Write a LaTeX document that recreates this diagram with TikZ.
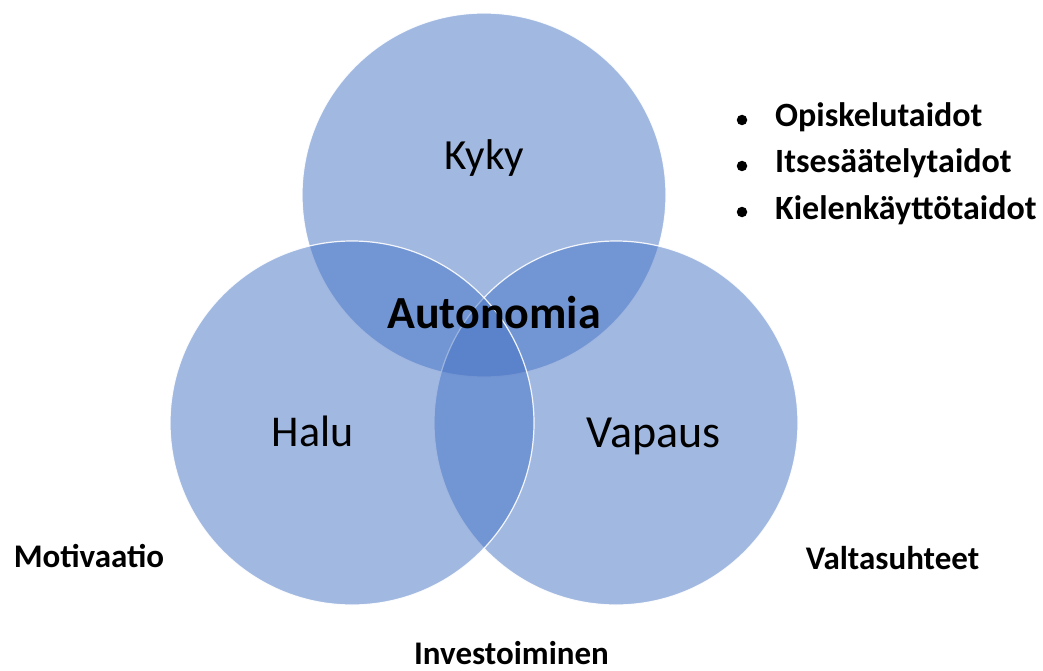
\documentclass[tikz,border=0pt]{standalone}
\usepackage{fontspec}
\setmainfont{Carlito}
\definecolor{vblue}{HTML}{4472C4}
\begin{document}
\begin{tikzpicture}[x=1pt,y=-1pt,
  venn/.style={circle, minimum size=364pt, inner sep=0pt, fill=vblue, fill opacity=0.5, draw=white, draw opacity=0.9, line width=1.2pt},
  bigtext/.style={inner sep=0pt, anchor=base, text=black, font=\fontsize{44}{50}\selectfont},
  boldtext/.style={inner sep=0pt, anchor=base, text=black, font=\bfseries\fontsize{33}{38}\selectfont},
  listtext/.style={boldtext, anchor=base west, font=\bfseries\fontsize{34}{38}\selectfont},
  dot/.style={circle, fill=black, minimum size=10.5pt, inner sep=0pt}]
\useasboundingbox (0,0) rectangle (1043,671);
\node[venn] (ctop) at (484,195) {};
\node[venn] (cright) at (616,423) {};
\node[venn] (cleft) at (352,423) {};
\node[bigtext, font=\fontsize{43}{50}\selectfont] (kyky) at (484.5,170) {Kyky};
\node[bigtext] (halu) at (312.5,446) {Halu};
\node[bigtext, font=\fontsize{46}{50}\selectfont] (vapaus) at (653.5,447) {Vapaus};
\node[bigtext, font=\bfseries\fontsize{46}{50}\selectfont] (auto) at (494,328) {Autonomia};
\node[boldtext] (moti) at (89,567) {Motivaatio};
\node[boldtext] (valta) at (892.5,569) {Valtasuhteet};
\node[boldtext] (inv) at (511.5,664) {Investoiminen};
\node[dot] (b1) at (742,120) {};
\node[dot] (b2) at (742,166) {};
\node[dot] (b3) at (742,212) {};
\node[listtext] (l1) at (775,127) {Opiskelutaidot};
\node[listtext] (l2) at (775,173) {Itsesäätelytaidot};
\node[listtext] (l3) at (775,219) {Kielenkäyttötaidot};
\end{tikzpicture}
\end{document}
